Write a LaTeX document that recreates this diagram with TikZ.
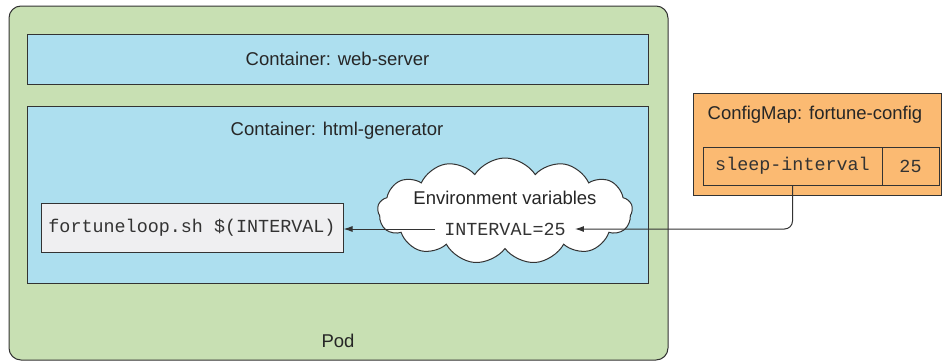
\documentclass[tikz,border=0pt]{standalone}
\usepackage{fontspec}
\setmainfont{Liberation Sans}
\setmonofont{Liberation Mono}
\usepackage{xcolor}
\usepackage{tikz}
\usetikzlibrary{arrows.meta,shapes.symbols}
\definecolor{podgreen}{HTML}{C8E0B3}
\definecolor{ctblue}{HTML}{ADDFEF}
\definecolor{cmorange}{HTML}{FBBA72}
\definecolor{cmdgray}{HTML}{EFEFF1}
\definecolor{edge}{HTML}{333333}
\tikzset{
  pod/.style={draw=edge,line width=1pt,fill=podgreen,rounded corners=12pt,inner sep=0pt},
  ctr/.style={draw=edge,line width=1pt,fill=ctblue,inner sep=0pt},
  cmap/.style={draw=edge,line width=1pt,fill=cmorange,inner sep=0pt},
  cmd/.style={draw=edge,line width=1pt,fill=cmdgray,inner sep=0pt},
  env/.style={cloud,cloud puffs=13,cloud puff arc=115,aspect=2.4,draw=edge,line width=1pt,fill=white,inner sep=0pt},
  lbl/.style={text=black!85,font=\fontsize{18.5}{22}\selectfont},
  code/.style={text=black!80,font=\ttfamily\fontsize{18.4}{22}\selectfont},
  ref/.style={line width=1pt,draw=edge,-{Latex[length=9pt,width=6pt]}}
}

\begin{document}
\begin{tikzpicture}[x=1pt,y=-1pt]
\useasboundingbox (0,0) rectangle (942,362);
\node[pod,minimum width=659,minimum height=354] (pod) at (338.5,183) {};
\node[lbl] (podlbl) at (338,341) {Pod};
\node[ctr,minimum width=621,minimum height=50] (web) at (337.5,59) {};
\node[lbl] (weblbl) at (337.5,59) {Container: web-server};
\node[ctr,minimum width=621,minimum height=177] (gen) at (337.5,194.5) {};
\node[lbl] (genlbl) at (337,131) {Container: html-generator};
\node[cmd,minimum width=302,minimum height=49] (loop) at (192,228) {};
\node[code] (looplbl) at (192,228) {fortuneloop.sh \$(INTERVAL)};
\node[env,minimum width=255,minimum height=106] (envvars) at (505,211) {};
\node[lbl] (envlbl) at (505,198) {Environment variables};
\node[code,inner sep=9pt] (intvar) at (505,229) {INTERVAL=25};
\node[cmap,minimum width=248,minimum height=102] (cm) at (817,144) {};
\node[lbl] (cmlbl) at (815,115) {ConfigMap: fortune-config};
\node[cmap,minimum width=179,minimum height=38] (key) at (792.5,166) {};
\node[code] (keylbl) at (792.5,166) {sleep-interval};
\node[cmap,minimum width=57,minimum height=38] (val) at (910.5,166) {};
\node[code] (vallbl) at (910.5,166) {25};
\draw[ref] (intvar.west) -- (intvar.west -| loop.east);
\draw[ref,rounded corners=8pt] (key.south) |- (intvar.east);
\end{tikzpicture}
\end{document}
